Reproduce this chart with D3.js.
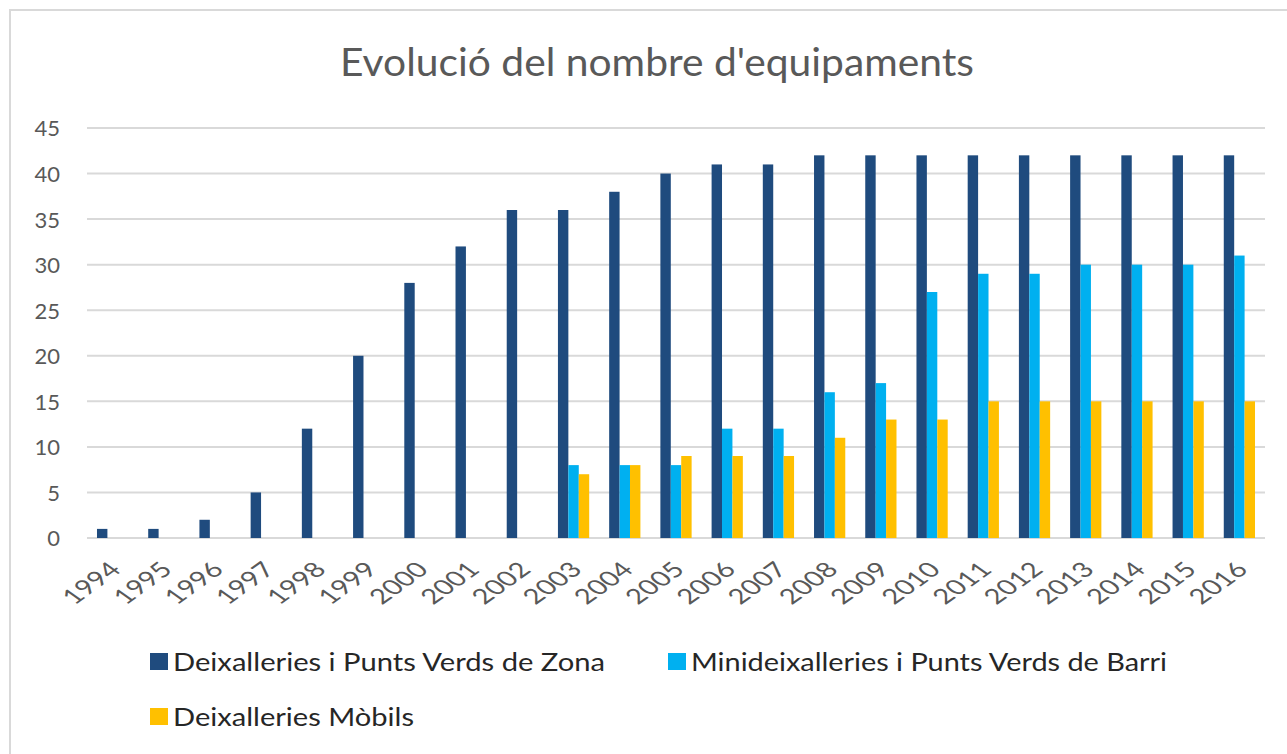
<!DOCTYPE html>
<html>
<head>
<meta charset="utf-8">
<script src="https://cdn.jsdelivr.net/npm/d3@7"></script>
<style>
  html, body { margin: 0; padding: 0; background: #fff; }
  svg { display: block; }
</style>
</head>
<body>
<svg id="chart" width="1287" height="754"></svg>
<script>
// Years on the category axis
const years = ["1994","1995","1996","1997","1998","1999","2000","2001","2002","2003","2004","2005",
               "2006","2007","2008","2009","2010","2011","2012","2013","2014","2015","2016"];

// Number of facilities per year, by type (null = not present that year)
const zona   = [1, 1, 2, 5, 12, 20, 28, 32, 36, 36, 38, 40, 41, 41, 42, 42, 42, 42, 42, 42, 42, 42, 42];
const barri  = [null, null, null, null, null, null, null, null, null, 8, 8, 8, 12, 12, 16, 17, 27, 29, 29, 30, 30, 30, 31];
const mobils = [null, null, null, null, null, null, null, null, null, 7, 8, 9, 9, 9, 11, 13, 13, 15, 15, 15, 15, 15, 15];

const seriesNames = ["Deixalleries  i Punts Verds de Zona", "Minideixalleries  i Punts Verds de Barri", "Deixalleries  Mòbils"];
const seriesColors = ["#1f4b7e", "#00b0f0", "#ffc000"];
const yTicks = [0, 5, 10, 15, 20, 25, 30, 35, 40, 45];
const titleText = "Evolució del nombre d'equipaments";

const seriesValues = [zona, barri, mobils];

const svg = d3.select("#chart");
const font = "Lato, 'Open Sans', sans-serif";

// Chart frame
svg.append("path")
  .attr("d", "M10,760 L10,10 L1300,10")
  .attr("fill", "none")
  .attr("stroke", "#d9d9d9")
  .attr("stroke-width", 2);

// Title
svg.append("text")
  .attr("x", 657).attr("y", 76)
  .attr("text-anchor", "middle")
  .attr("font-family", font)
  .attr("font-size", 39)
  .attr("fill", "#595959")
  .attr("textLength", 634)
  .attr("lengthAdjust", "spacingAndGlyphs")
  .text(titleText);

// Scales
const x = d3.scaleBand().domain(years).range([87, 1265]).paddingInner(0).paddingOuter(0);
const y = d3.scaleLinear().domain([0, 45]).range([538, 128]);
const groupW = x.bandwidth() * 0.61;
const xs = d3.scaleBand().domain(d3.range(3)).range([0, groupW]);

// Gridlines
svg.append("g")
  .selectAll("line")
  .data(yTicks)
  .join("line")
  .attr("x1", 87).attr("x2", 1265)
  .attr("y1", d => y(d)).attr("y2", d => y(d))
  .attr("stroke", "#d9d9d9")
  .attr("stroke-width", 2);

// Y axis labels
const yAxis = d3.axisLeft(y).tickValues(yTicks).tickSize(0).tickPadding(0);
const gy = svg.append("g").attr("transform", "translate(60,0)").call(yAxis);
gy.select(".domain").remove();
gy.selectAll("text")
  .attr("font-family", font)
  .attr("font-size", 22)
  .attr("fill", "#595959")
  .attr("dy", "0.36em");

// Bars
const bars = svg.append("g");
seriesValues.forEach((vals, si) => {
  bars.append("g")
    .selectAll("rect")
    .data(years.map((yr, i) => ({ yr, v: vals[i] })).filter(d => d.v != null))
    .join("rect")
    .attr("x", d => x(d.yr) + (x.bandwidth() - groupW) / 2 + xs(si))
    .attr("width", xs.bandwidth())
    .attr("y", d => y(d.v))
    .attr("height", d => y(0) - y(d.v))
    .attr("fill", seriesColors[si]);
});

// X axis labels (rotated)
const xAxis = d3.axisBottom(x).tickSize(0).tickPadding(0);
const gx = svg.append("g").call(xAxis);
gx.select(".domain").remove();
gx.selectAll(".tick").attr("transform", null);
gx.selectAll(".tick text")
  .attr("y", 0).attr("dy", 0)
  .attr("text-anchor", "end")
  .attr("font-family", font)
  .attr("font-size", 21)
  .attr("fill", "#595959")
  .attr("transform", d => `translate(${x(d) + x.bandwidth() / 2 + 10},${571}) scale(1.4,1) rotate(-45)`);

// Legend
const legendItems = [
  { name: seriesNames[0], color: seriesColors[0], x: 150, y: 662, len: 432 },
  { name: seriesNames[1], color: seriesColors[1], x: 668, y: 662, len: 476 },
  { name: seriesNames[2], color: seriesColors[2], x: 150, y: 717, len: 241 }
];
const lg = svg.append("g")
  .selectAll("g")
  .data(legendItems)
  .join("g")
  .attr("transform", d => `translate(${d.x},${d.y})`);
lg.append("rect")
  .attr("x", 0).attr("y", -9)
  .attr("width", 18).attr("height", 17)
  .attr("fill", d => d.color);
lg.append("text")
  .attr("x", 23).attr("y", 9)
  .attr("font-family", font)
  .attr("font-size", 25)
  .attr("fill", "#262626")
  .attr("textLength", d => d.len)
  .attr("lengthAdjust", "spacingAndGlyphs")
  .text(d => d.name);
</script>
</body>
</html>
